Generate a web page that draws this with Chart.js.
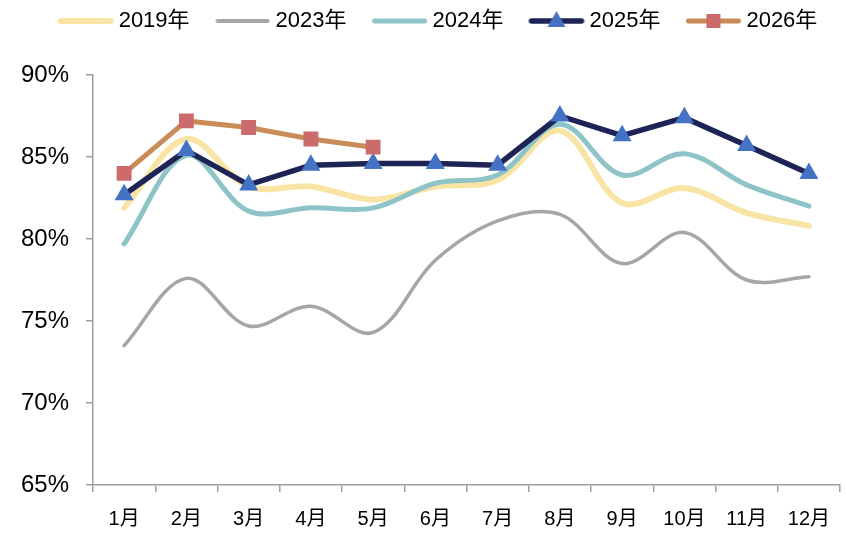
<!DOCTYPE html>
<html>

<head>
    <meta charset="utf-8">
    <title>月度开工率</title>
    <script src="https://cdn.jsdelivr.net/npm/chart.js"></script>
    <style>
        html, body {
            margin: 0;
            padding: 0;
            background: #fff;
            overflow: hidden;
        }

        #chartBox {
            width: 846px;
            height: 535px;
            overflow: hidden;
        }

        canvas {
            display: block;
        }
    </style>
</head>

<body>
    <div id="chartBox">
        <canvas id="rateChart" width="851" height="535"></canvas>
    </div>

    <script>
        // 月份
        const months = ['1月', '2月', '3月', '4月', '5月', '6月', '7月', '8月', '9月', '10月', '11月', '12月'];
        // 各年开工率 (%)
        const rate2019 = [81.9, 86.1, 83.2, 83.2, 82.4, 83.2, 83.6, 86.6, 82.2, 83.1, 81.6, 80.8];
        const rate2023 = [73.5, 77.6, 74.7, 75.9, 74.3, 78.7, 81.1, 81.5, 78.5, 80.4, 77.5, 77.7];
        const rate2024 = [79.7, 85.1, 81.7, 81.9, 81.9, 83.4, 83.9, 87.0, 83.9, 85.2, 83.3, 82.0];
        const rate2025 = [82.7, 85.4, 83.3, 84.5, 84.6, 84.6, 84.5, 87.5, 86.3, 87.4, 85.7, 84.0];
        const rate2026 = [84.0, 87.2, 86.8, 86.1, 85.6];
        // y轴刻度
        const yTicks = [65, 70, 75, 80, 85, 90];

        const FONT = 'Arial, "Liberation Sans", "Noto Sans CJK SC", sans-serif';
        Chart.defaults.font.family = FONT;
        Chart.defaults.color = '#000';

        // 图例小图标: 线段 + 标记
        function makeIcon(color, lineW, marker, markerColor) {
            const c = document.createElement('canvas');
            c.width = 58;
            c.height = 24;
            const g = c.getContext('2d');
            g.strokeStyle = color;
            g.lineWidth = lineW;
            g.lineCap = 'round';
            g.beginPath();
            g.moveTo(4, 12);
            g.lineTo(54, 12);
            g.stroke();
            g.fillStyle = markerColor;
            if (marker === 'triangle') {
                g.beginPath();
                g.moveTo(29, 2);
                g.lineTo(38, 18);
                g.lineTo(20, 18);
                g.closePath();
                g.fill();
            } else if (marker === 'rect') {
                g.fillRect(22, 5, 14, 14);
            }
            return c;
        }

        const legendIcons = [
            makeIcon('#F8E5A6', 6, null),
            makeIcon('#A6A6A6', 4, null),
            makeIcon('#8EC4C8', 5, null),
            makeIcon('#1F2456', 5.5, 'triangle', '#4472C4'),
            makeIcon('#C98B57', 5, 'rect', '#CC6B6B')
        ];

        // 图例下方留白, 图例位置微调
        const legendGap = {
            id: 'legendGap',
            beforeInit(chart) {
                const fit = chart.legend.fit;
                chart.legend.fit = function () {
                    fit.call(this);
                    this.height = 75;
                };
            },
            afterLayout(chart) {
                chart.legend.left = 30;
                chart.legend.top = -21;
            }
        };

        const smooth = 0.35;

        const ctx = document.getElementById('rateChart').getContext('2d');
        const rateChart = new Chart(ctx, {
            type: 'line',
            data: {
                labels: months,
                datasets: [{
                    label: '2019年',
                    data: rate2019,
                    borderColor: '#F8E5A6',
                    borderWidth: 6,
                    borderCapStyle: 'round',
                    tension: smooth,
                    pointRadius: 0,
                    order: 5
                }, {
                    label: '2023年',
                    data: rate2023,
                    borderColor: '#A6A6A6',
                    borderWidth: 3.5,
                    borderCapStyle: 'round',
                    tension: smooth,
                    pointRadius: 0,
                    order: 4
                }, {
                    label: '2024年',
                    data: rate2024,
                    borderColor: '#8EC4C8',
                    borderWidth: 5,
                    borderCapStyle: 'round',
                    tension: smooth,
                    pointRadius: 0,
                    order: 3
                }, {
                    label: '2025年',
                    data: rate2025,
                    borderColor: '#1F2456',
                    borderWidth: 5.5,
                    tension: 0,
                    pointStyle: 'triangle',
                    pointRadius: 11,
                    pointBackgroundColor: '#4472C4',
                    pointBorderColor: '#4472C4',
                    pointBorderWidth: 0,
                    order: 2
                }, {
                    label: '2026年',
                    data: rate2026,
                    borderColor: '#C98B57',
                    borderWidth: 5,
                    tension: 0,
                    pointStyle: 'rect',
                    pointRadius: 10.5,
                    pointBackgroundColor: '#CC6B6B',
                    pointBorderColor: '#CC6B6B',
                    pointBorderWidth: 0,
                    order: 1
                }]
            },
            options: {
                responsive: false,
                animation: false,
                layout: {
                    padding: 0
                },
                plugins: {
                    tooltip: { enabled: false },
                    legend: {
                        position: 'top',
                        labels: {
                            usePointStyle: true,
                            pointStyleWidth: 44,
                            padding: 31,
                            font: { size: 22 },
                            color: '#000',
                            sort: (a, b) => a.datasetIndex - b.datasetIndex,
                            generateLabels(chart) {
                                const items = Chart.defaults.plugins.legend.labels.generateLabels(chart);
                                items.forEach(it => { it.pointStyle = legendIcons[it.datasetIndex]; });
                                return items;
                            }
                        }
                    }
                },
                scales: {
                    x: {
                        offset: true,
                        grid: {
                            offset: true,
                            drawOnChartArea: false,
                            color: '#9E9E9E',
                            lineWidth: 1.5,
                            tickLength: 7
                        },
                        border: { color: '#9E9E9E', width: 1.5 },
                        ticks: {
                            font: { size: 20 },
                            padding: 15,
                            maxRotation: 0,
                            autoSkip: false
                        },
                        afterFit(scale) { scale.height = 50; }
                    },
                    y: {
                        min: yTicks[0],
                        max: yTicks[yTicks.length - 1],
                        grid: {
                            drawOnChartArea: false,
                            color: '#9E9E9E',
                            lineWidth: 1.5,
                            tickLength: 7
                        },
                        border: { color: '#9E9E9E', width: 1.5 },
                        ticks: {
                            stepSize: 5,
                            font: { size: 24 },
                            padding: 17,
                            callback: v => v + '%'
                        },
                        afterFit(scale) { scale.width = 93; }
                    }
                }
            },
            plugins: [legendGap]
        });
    </script>
</body>

</html>
